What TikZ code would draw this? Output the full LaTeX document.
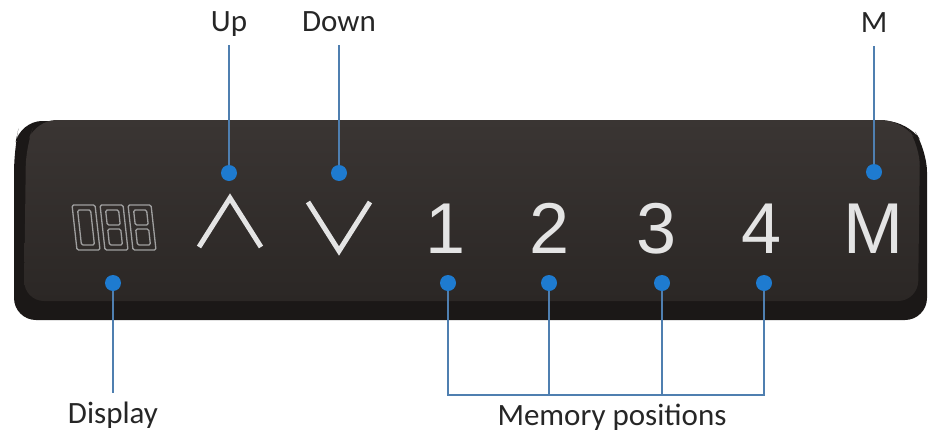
\documentclass[tikz,border=0pt]{standalone}
\usepackage{fontspec}
\setmainfont{Carlito}
\newfontfamily\keyfont{Liberation Sans}
\usetikzlibrary{positioning}
\definecolor{leadblue}{HTML}{4F7FB0}
\definecolor{dotblue}{HTML}{1E7BD0}
\definecolor{bodydark}{HTML}{1B1817}
\definecolor{facetop}{HTML}{3A3533}
\definecolor{facebot}{HTML}{2B2725}
\definecolor{keygray}{HTML}{E4E4E4}
\tikzset{
  dot/.style = {circle, fill = dotblue, inner sep = 0, minimum size = 16pt},
  lead/.style = {leadblue, line width = 1.6pt},
  tag/.style = {anchor = base, text = black!85, font = \fontsize{31}{36}\selectfont,
    text height = 22pt, text depth = 6pt, inner xsep = 2pt, inner ysep = 8pt},
  key/.style = {anchor = base, text = keygray, inner sep = 0,
    font = \keyfont\fontsize{72}{80}\selectfont},
  seg/.style = {draw = gray!75, line width = 1.3pt, rounded corners = 1.5pt}
}
\begin{document}
\begin{tikzpicture}[x = 1pt, y = -1pt]
\useasboundingbox (0,0) rectangle (932,434);
% panel body
\fill[bodydark, rounded corners = 22pt] (20,121) -- (908,121) -- (927,150) -- (927,320) -- (14,320) -- (14,150) -- cycle;
\shade[top color = facetop, bottom color = facebot, rounded corners = 20pt]
  (36,120) -- (902,120) -- (920,146) -- (918,301) -- (24,301) -- (26,146) -- cycle;
% display digits
\foreach \dx/\mid in {77/0, 105/1, 133/1} {
  \begin{scope}[shift = {(\dx,250)}, xslant = -0.11]
    \draw[seg] (0,0) rectangle (23,-45);
    \ifnum\mid=0
      \draw[seg] (5,-5) rectangle (18,-40);
    \else
      \draw[seg] (5,-5) rectangle (18,-21);
      \draw[seg] (5,-25) rectangle (18,-40);
    \fi
  \end{scope}
}
% keys
\draw[keygray, line width = 5pt] (199,247) -- (230,198) -- (261,247);
\draw[keygray, line width = 5pt] (308,202) -- (339,251) -- (370,202);
\node[key] (k1) at (446,253) {1};
\node[key] (k2) at (550,253) {2};
\node[key] (k3) at (657,253) {3};
\node[key] (k4) at (762,253) {4};
\node[key] (kM) at (873,253) {M};
% labels
\node[tag] (lUp) at (229,31) {Up};
\node[tag] (lDown) at (339,31) {Down};
\node[tag] (lM) at (874,32) {M};
\node[tag] (lDisp) at (113,423) {Display};
\node[tag] (lMem) at (612,425) {Memory positions};
% dots
\node[dot] (dUp) at (229,173) {};
\node[dot] (dDown) at (339,173) {};
\node[dot] (dM) at (874,172) {};
\node[dot] (dDisp) at (113,283) {};
\node[dot] (d1) at (448,283) {};
\node[dot] (d2) at (549,283) {};
\node[dot] (d3) at (662,283) {};
\node[dot] (d4) at (764,283) {};
% leads
\draw[lead] (dUp) -- (lUp);
\draw[lead] (dDown) -- (lDown);
\draw[lead] (dM) -- (lM);
\draw[lead] (dDisp) -- (lDisp);
\draw[lead] (d1) |- (lMem.north) -| (d4);
\draw[lead] (d2) -- (d2 |- lMem.north);
\draw[lead] (d3) -- (d3 |- lMem.north);
\end{tikzpicture}
\end{document}
